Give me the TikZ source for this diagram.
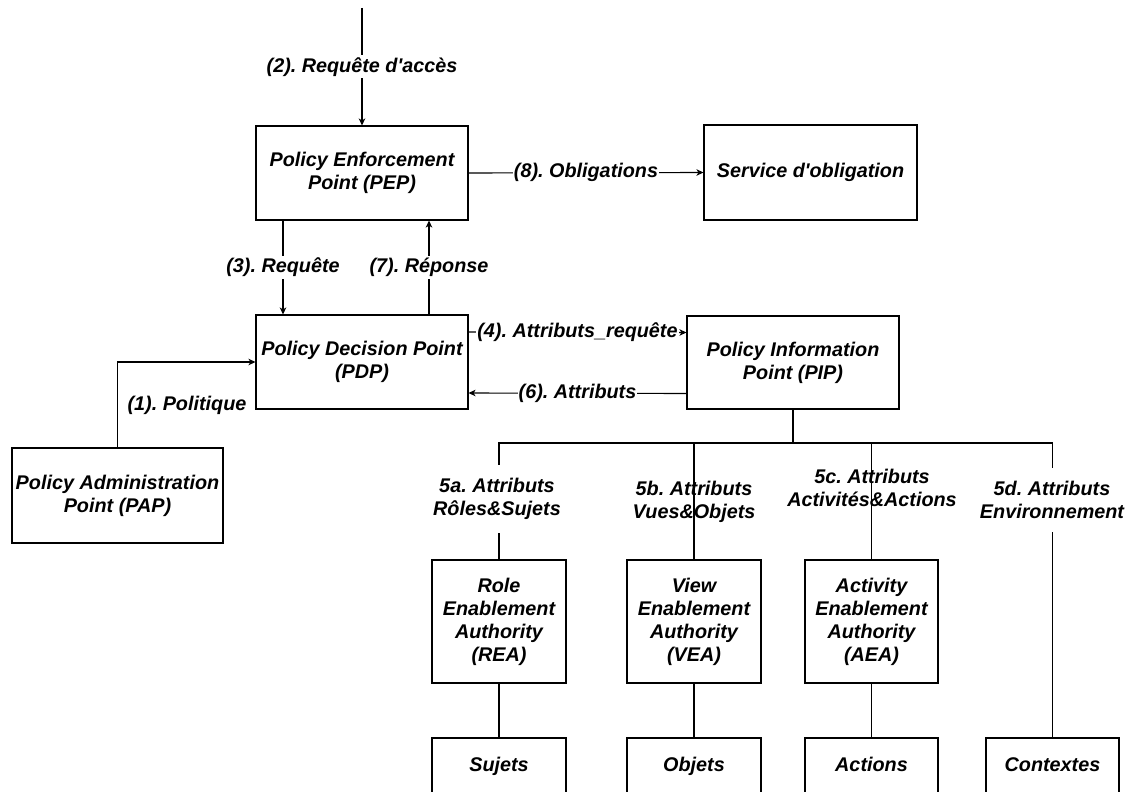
\documentclass[tikz,border=0pt]{standalone}
\usepackage{fontspec}
\newfontfamily\diafont{Liberation Sans}
\usetikzlibrary{arrows.meta}
\frenchspacing
\begin{document}
\begin{tikzpicture}[x=1pt,y=-1pt,
  txt/.style={font=\diafont\bfseries\itshape\fontsize{19.8}{23}\selectfont, align=center, text=black},
  box/.style={txt, draw=black, line width=1.1pt, inner sep=2pt},
  leaf/.style={box, text height=14.5pt, text depth=4.5pt},
  lbl/.style={txt, inner xsep=1pt, inner ysep=2pt},
  bg/.style={fill=white},
  conn/.style={draw=black, line width=1.1pt},
  arr/.style={conn, -{Stealth[length=7pt,width=6.5pt,inset=2pt]}}]

% page frame
\useasboundingbox (0,0) rectangle (1128,792);
\clip (0,0) rectangle (1128,792);
\fill[white] (0,0) rectangle (1128,792);

% main components
\node[box, minimum width=212pt, minimum height=94pt] (pep) at (362,173) {Policy Enforcement\\Point (PEP)};
\node[box, minimum width=213pt, minimum height=95pt] (svc) at (810.5,172.5) {Service d'obligation};
\node[box, minimum width=212pt, minimum height=94pt] (pdp) at (362,362) {Policy Decision Point\\(PDP)};
\node[box, minimum width=212pt, minimum height=93pt] (pip) at (793,362.5) {Policy Information\\Point (PIP)};
\node[box, minimum width=211pt, minimum height=95pt] (pap) at (117.5,495.5) {Policy Administration\\Point (PAP)};

% enablement authorities
\node[box, minimum width=134pt, minimum height=123pt] (rea) at (499,621.5) {Role\\Enablement\\Authority\\(REA)};
\node[box, minimum width=134pt, minimum height=123pt] (vea) at (694,621.5) {View\\Enablement\\Authority\\(VEA)};
\node[box, minimum width=133pt, minimum height=123pt] (aea) at (871.5,621.5) {Activity\\Enablement\\Authority\\(AEA)};

% attribute sources
\node[leaf, minimum width=134pt, minimum height=56pt] (sujets) at (499,766) {Sujets};
\node[leaf, minimum width=134pt, minimum height=56pt] (objets) at (694,766) {Objets};
\node[leaf, minimum width=133pt, minimum height=56pt] (actions) at (871.5,766) {Actions};
\node[leaf, minimum width=133pt, minimum height=56pt] (contextes) at (1052.5,766) {Contextes};

% request flow
\coordinate (src) at (362,8);
\draw[arr] (src) -- (pep.north) node[lbl, bg, midway] {(2). Requête d'accès};
\draw[arr] (pep.east) -- (svc.west) node[lbl, bg, midway] {(8). Obligations};
\draw[arr] ([xshift=-79pt]pep.south) -- ([xshift=-79pt]pdp.north) node[lbl, bg, midway] {(3). Requête};
\draw[arr] ([xshift=67pt]pdp.north) -- ([xshift=67pt]pep.south) node[lbl, bg, midway] {(7). Réponse};
\draw[arr] ([yshift=30pt]pdp.east) -- ([yshift=30pt]pip.west) node[lbl, bg, midway] {(4). Attributs\_requête};
\draw[arr] ([yshift=-31pt]pip.west) -- ([yshift=-31pt]pdp.east) node[lbl, bg, midway] {(6). Attributs};
\draw[arr] (pap.north) |- (pdp.west);
\node[lbl] (politique) at (187,405) {(1). Politique};

% attribute bus
\coordinate (bus) at (0,443);
\draw[conn] (pip.south) -- (pip.south |- bus);
\draw[conn] (rea.north) -- (rea.north |- bus) -- (contextes.north |- bus) -- (contextes.north);
\draw[conn] (vea.north) -- (vea.north |- bus);
\draw[conn] (aea.north) -- (aea.north |- bus);

\node[lbl, bg, inner ysep=13pt] (l5a) at (497,499) {5a. Attributs\\Rôles\&Sujets};
\node[lbl] (l5b) at (694,502) {5b. Attributs\\Vues\&Objets};
\node[lbl] (l5c) at (872,487.5) {5c. Attributs\\Activités\&Actions};
\node[lbl, bg, inner ysep=13pt] (l5d) at (1052,500) {5d. Attributs\\Environnement};

% authorities to sources
\draw[conn] (rea.south) -- (sujets.north);
\draw[conn] (vea.south) -- (objets.north);
\draw[conn] (aea.south) -- (actions.north);
\end{tikzpicture}
\end{document}
